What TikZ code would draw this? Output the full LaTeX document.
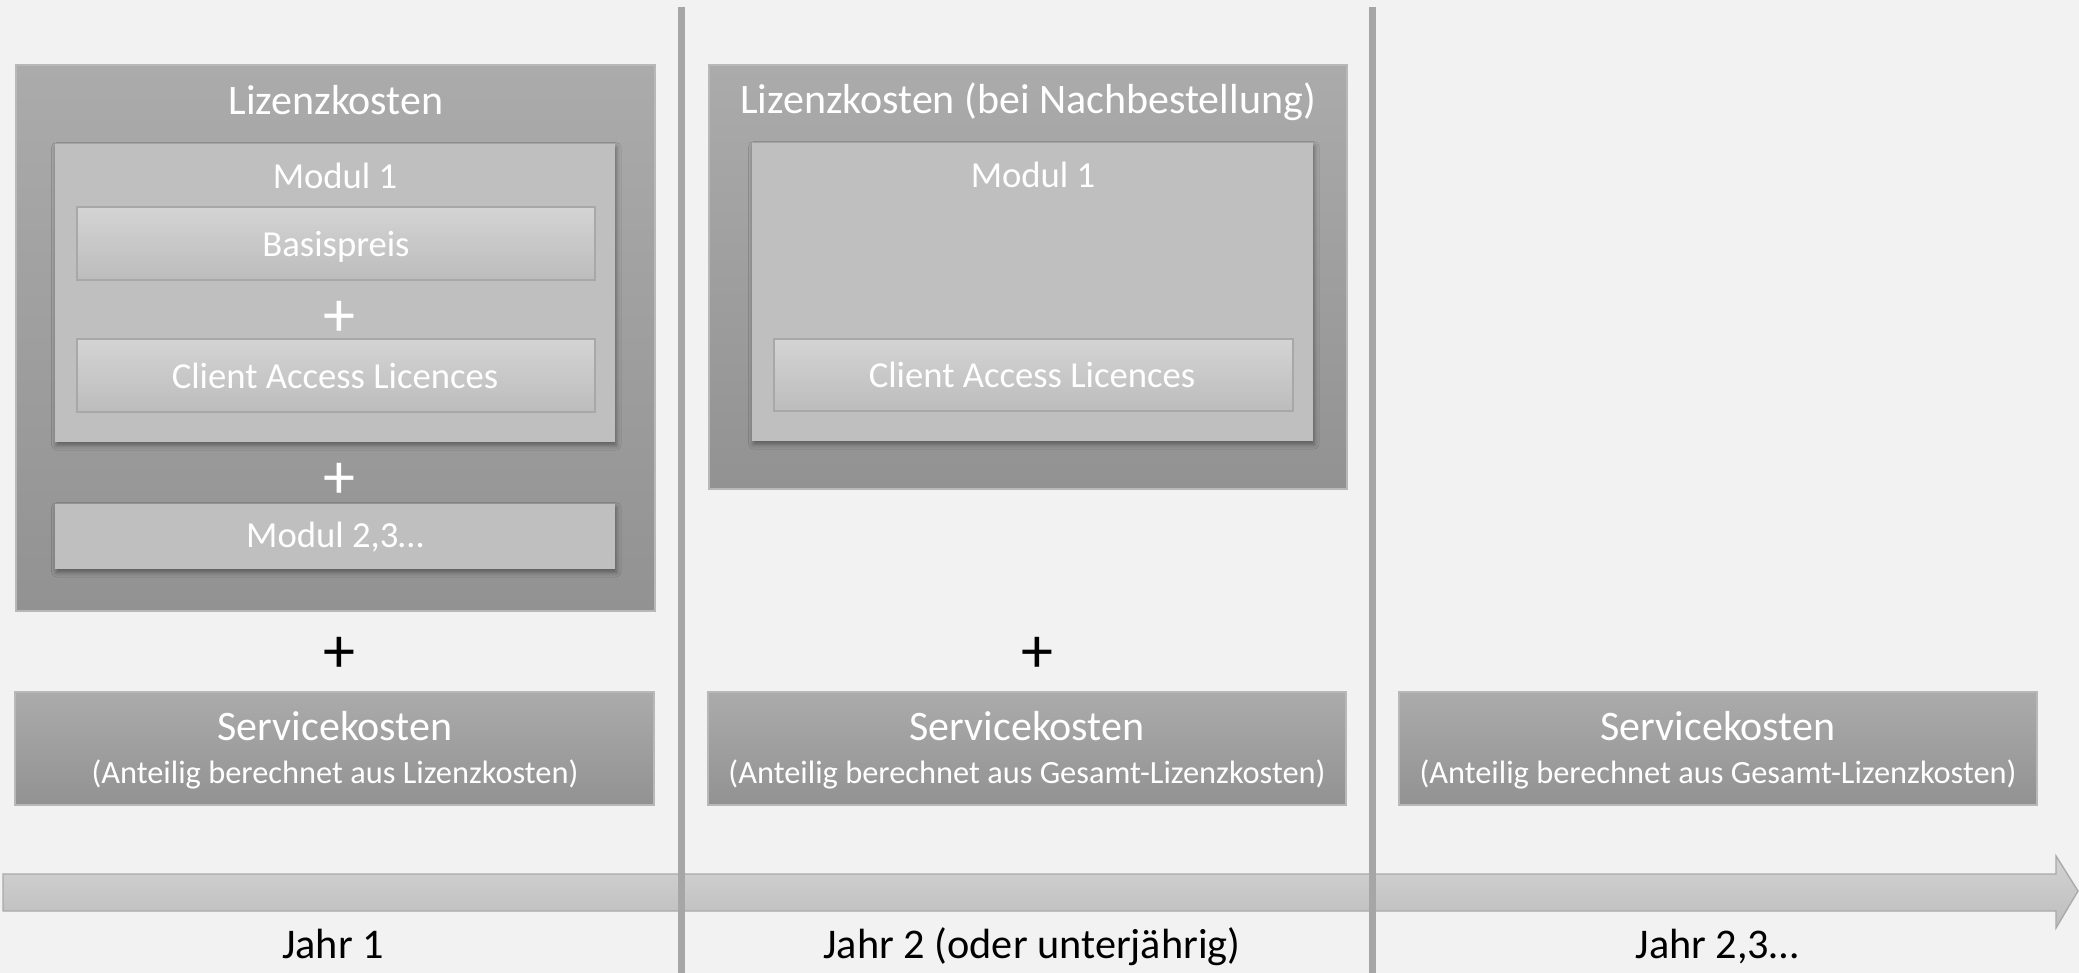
\documentclass[tikz,border=0pt]{standalone}
\usepackage{fontspec}
\setmainfont{Carlito}
\usetikzlibrary{fit,shadows.blur}
\definecolor{bg}{HTML}{F2F2F2}
\definecolor{licTop}{HTML}{ABABAB}
\definecolor{licBot}{HTML}{929292}
\definecolor{licBorder}{HTML}{B8B8B8}
\definecolor{modFill}{HTML}{BFBFBF}
\definecolor{itemTop}{HTML}{D4D4D4}
\definecolor{itemBot}{HTML}{BCBCBC}
\definecolor{itemBorder}{HTML}{A8A8A8}
\definecolor{arrTop}{HTML}{D3D3D3}
\definecolor{arrBot}{HTML}{BDBDBD}
\definecolor{arrBorder}{HTML}{A9A9A9}
\definecolor{divCol}{HTML}{A6A6A6}
\begin{document}
\begin{tikzpicture}[x=0.75pt,y=-0.75pt,
  licbox/.style={draw=licBorder, line width=1pt, top color=licTop, bottom color=licBot, inner sep=0pt},
  modbox/.style={fill=modFill, draw=none, inner sep=0pt,
    blur shadow={shadow xshift=1pt, shadow yshift=-2.5pt, shadow blur radius=3.5pt, shadow opacity=40}},
  itembox/.style={draw=itemBorder, line width=0.8pt, top color=itemTop, bottom color=itemBot, inner sep=0pt},
  svcbox/.style={draw=licBorder, line width=1pt, top color=licTop, bottom color=licBot, inner sep=0pt},
  wtitle/.style={text=white, anchor=base, inner sep=0pt, font=\fontsize{31.5}{37}\selectfont},
  wtext/.style={text=white, anchor=base, inner sep=0pt, font=\fontsize{27.5}{33}\selectfont},
  wsub/.style={text=white, anchor=base, inner sep=0pt, font=\fontsize{24.3}{29}\selectfont},
  wplus/.style={text=white, anchor=center, inner sep=0pt, font=\fontsize{48}{56}\selectfont},
  bplus/.style={text=black, anchor=center, inner sep=0pt, font=\fontsize{48}{56}\selectfont},
  yearlbl/.style={text=black, anchor=base, inner sep=0pt, font=\fontsize{31.7}{38}\selectfont},
  divider/.style={draw=divCol, line width=5.25pt},
  timearrow/.style={draw=arrBorder, line width=1pt, top color=arrTop, bottom color=arrBot}
]
\path[use as bounding box, fill=bg] (0,0) rectangle (2079,973);

% timeline arrow
\path[timearrow] (3,874) -- (2056,874) -- (2056,856) -- (2078,891) -- (2056,928) -- (2056,911) -- (3,911) -- cycle;

% dividers
\coordinate (d1t) at (681,7);
\coordinate (d1b) at (681,973);
\coordinate (d2t) at (1372,7);
\coordinate (d2b) at (1372,973);
\draw[divider] (d1t) -- (d1b);
\draw[divider] (d2t) -- (d2b);

% ---------- Year 1 ----------
\node[licbox, fit={(16,65) (655,611)}] (lic1) {};
\node[wtitle] (lic1t) at (336,115) {Lizenzkosten};
\node[modbox, fit={(55,144) (615,442)}] (mod1a) {};
\node[wtext] (mod1at) at (335,188.5) {Modul 1};
\node[itembox, fit={(77,207) (595,280)}] (basis) {};
\node[wtext] (basist) at (336,256.5) {Basispreis};
\node[wplus] (plusa) at (339,318.5) {+};
\node[itembox, fit={(77,339) (595,412)}] (cal1) {};
\node[wtext] (cal1t) at (335,388.5) {Client Access Licences};
\node[wplus] (plusb) at (339,480.5) {+};
\node[modbox, fit={(55,504) (615,569)}] (mod23) {};
\node[wtext] (mod23t) at (335,547.5) {Modul 2,3…};
\node[bplus] (plusc) at (339,654.5) {+};
\node[svcbox, fit={(15,692) (654,805)}] (svc1) {};
\node[wtitle] (svc1t) at (335,740) {Servicekosten};
\node[wsub] (svc1s) at (335,783) {(Anteilig berechnet aus Lizenzkosten)};
\node[yearlbl] (y1) at (333,958.5) {Jahr 1};

% ---------- Year 2 ----------
\node[licbox, fit={(709,65) (1347,489)}] (lic2) {};
\node[wtitle] (lic2t) at (1028,114) {Lizenzkosten (bei Nachbestellung)};
\node[modbox, fit={(752,143) (1313,441)}] (mod1b) {};
\node[wtext] (mod1bt) at (1033,187.5) {Modul 1};
\node[itembox, fit={(774,339) (1293,411)}] (cal2) {};
\node[wtext] (cal2t) at (1032,387.5) {Client Access Licences};
\node[bplus] (plusd) at (1037,654.5) {+};
\node[svcbox, fit={(708,692) (1346,805)}] (svc2) {};
\node[wtitle] (svc2t) at (1027,740) {Servicekosten};
\node[wsub] (svc2s) at (1027,783) {(Anteilig berechnet aus Gesamt-Lizenzkosten)};
\node[yearlbl] (y2) at (1032,958.5) {Jahr 2 (oder unterjährig)};

% ---------- Year 3 ----------
\node[svcbox, fit={(1399,692) (2037,805)}] (svc3) {};
\node[wtitle] (svc3t) at (1718,740) {Servicekosten};
\node[wsub] (svc3s) at (1718,783) {(Anteilig berechnet aus Gesamt-Lizenzkosten)};
\node[yearlbl] (y3) at (1717,958.5) {Jahr 2,3…};
\end{tikzpicture}
\end{document}
